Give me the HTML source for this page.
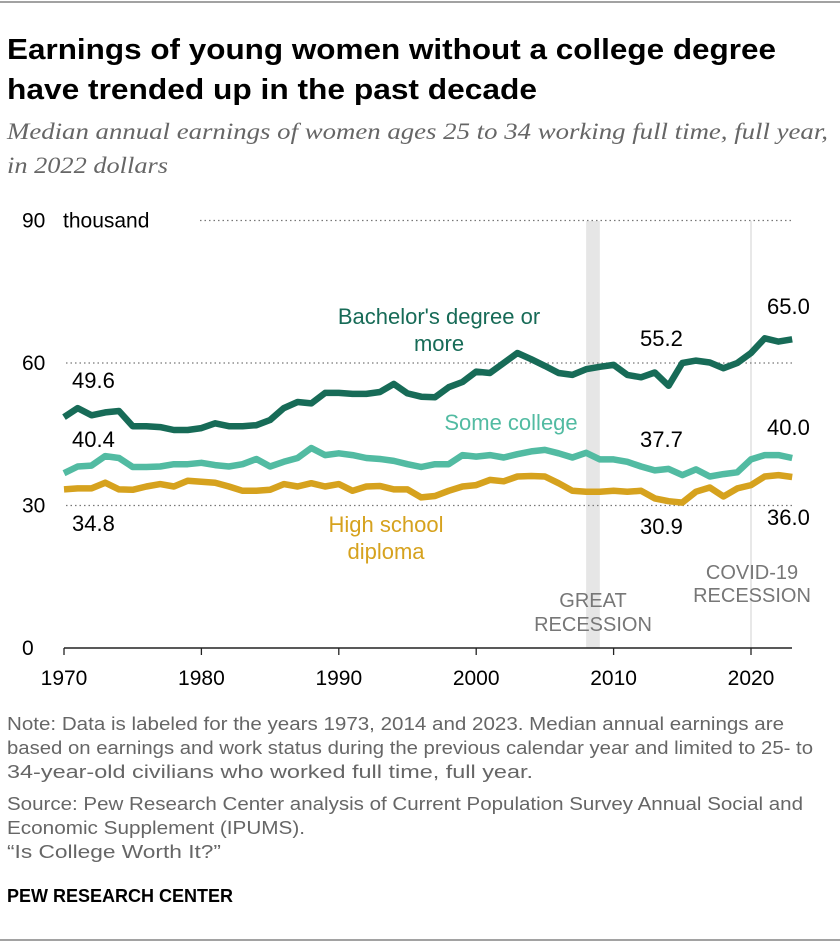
<!DOCTYPE html>
<html><head><meta charset="utf-8"><style>
body{margin:0;background:#fff;width:840px;height:944px;overflow:hidden;font-family:"Liberation Sans",sans-serif}
</style></head><body>
<svg width="840" height="944" xmlns="http://www.w3.org/2000/svg" font-family="Liberation Sans, sans-serif">
<line x1="0" y1="2" x2="840" y2="2" stroke="#444" stroke-width="1"/>
<text x="7" y="59" font-size="29" font-weight="bold" fill="#000" textLength="769" lengthAdjust="spacingAndGlyphs">Earnings of young women without a college degree</text>
<text x="7" y="99" font-size="29" font-weight="bold" fill="#000" textLength="530" lengthAdjust="spacingAndGlyphs">have trended up in the past decade</text>
<text x="7" y="139" font-size="23" font-style="italic" fill="#666" font-family="Liberation Serif, serif" textLength="821" lengthAdjust="spacingAndGlyphs">Median annual earnings of women ages 25 to 34 working full time, full year,</text>
<text x="7" y="173" font-size="23" font-style="italic" fill="#666" font-family="Liberation Serif, serif" textLength="161" lengthAdjust="spacingAndGlyphs">in 2022 dollars</text>
<g id="plot"></g>
<g font-size="18" fill="#666">
<text x="7" y="730" textLength="777" lengthAdjust="spacingAndGlyphs">Note: Data is labeled for the years 1973, 2014 and 2023. Median annual earnings are</text>
<text x="7" y="754" textLength="806" lengthAdjust="spacingAndGlyphs">based on earnings and work status during the previous calendar year and limited to 25- to</text>
<text x="7" y="778" textLength="526" lengthAdjust="spacingAndGlyphs">34-year-old civilians who worked full time, full year.</text>
<text x="7" y="810" textLength="796" lengthAdjust="spacingAndGlyphs">Source: Pew Research Center analysis of Current Population Survey Annual Social and</text>
<text x="7" y="834" textLength="298" lengthAdjust="spacingAndGlyphs">Economic Supplement (IPUMS).</text>
<text x="7" y="858" textLength="214" lengthAdjust="spacingAndGlyphs">“Is College Worth It?”</text>
</g>
<text x="7" y="902" font-size="18" font-weight="bold" fill="#000" textLength="226" lengthAdjust="spacingAndGlyphs">PEW RESEARCH CENTER</text>
<line x1="0" y1="940" x2="840" y2="940" stroke="#444" stroke-width="1"/>
</svg>
<script>
const years=[];for(let y=1970;y<=2023;y++)years.push(y);
const bachelors=[48.6,50.5,49.0,49.6,49.9,46.7,46.7,46.5,45.9,45.9,46.3,47.3,46.7,46.7,46.9,48.0,50.5,51.8,51.5,53.7,53.7,53.5,53.5,53.9,55.6,53.6,52.9,52.8,54.9,56.0,58.2,57.9,60.0,62.1,60.8,59.4,57.9,57.5,58.7,59.2,59.6,57.5,57.0,58.0,55.2,60.0,60.5,60.1,58.9,60.0,62.1,65.2,64.5,65.0];
const someCollege=[36.8,38.2,38.4,40.4,40.0,38.1,38.1,38.2,38.7,38.7,39.0,38.5,38.2,38.7,39.8,38.2,39.2,40.0,42.1,40.6,41.0,40.6,40.0,39.8,39.4,38.7,38.1,38.7,38.7,40.6,40.3,40.6,40.1,40.8,41.4,41.7,41.0,40.1,41.1,39.7,39.7,39.2,38.2,37.4,37.7,36.4,37.6,36.1,36.6,37.0,39.7,40.6,40.6,40.0];
const highSchool=[33.4,33.6,33.6,34.8,33.4,33.3,34.0,34.5,34.0,35.2,35.0,34.8,34.0,33.1,33.1,33.3,34.5,34.0,34.7,34.0,34.5,33.1,34.0,34.1,33.4,33.4,31.7,32.0,33.1,34.0,34.3,35.4,35.1,36.1,36.2,36.1,34.7,33.1,32.9,32.9,33.1,32.9,33.1,31.5,30.9,30.6,32.9,33.8,31.9,33.6,34.3,36.1,36.4,36.0];
const yTicks=[0,30,60,90];
const xTicks=[1970,1980,1990,2000,2010,2020];
const NS="http://www.w3.org/2000/svg";
const X=y=>64+(y-1970)*13.74;
const Y=v=>648-v*4.75;
const g=document.getElementById('plot');
function mk(t,a,txt){const e=document.createElementNS(NS,t);for(const k in a)e.setAttribute(k,a[k]);if(txt!==undefined)e.textContent=txt;g.appendChild(e);return e;}
let r=mk('rect',{x:X(2008.0),y:221,width:X(2009.0)-X(2008.0),height:427,fill:'#e6e6e6'});


let c=mk('line',{x1:X(2020),y1:221,x2:X(2020),y2:648,stroke:'#e0e0e0','stroke-width':1.5});


yTicks.forEach(v=>{
 if(v>0){const l=mk('line',{x1:v===90?200:66,y1:Y(v),x2:792,y2:Y(v),stroke:'#777','stroke-width':1.3,'stroke-dasharray':'1.5,3'});
 
 }
 const t=mk('text',{x:22,y:Y(v)+7,'font-size':21,fill:'#000'},String(v));
 
 
 if(v===90){const u=mk('text',{x:63,y:Y(v)+7,'font-size':21,fill:'#000'},'thousand');
 
 }
});
const base=mk('line',{x1:64,y1:648,x2:792,y2:648,stroke:'#222','stroke-width':1.5});


xTicks.forEach(v=>{
 const tk=mk('line',{x1:X(v),y1:648,x2:X(v),y2:655,stroke:'#222','stroke-width':1.3});
 
 
 const t=mk('text',{x:X(v),y:685,'font-size':21,fill:'#000','text-anchor':'middle'},String(v));
 
 
});
function line(data,color,name){
 const p=mk('path',{d:data.map((v,i)=>(i?'L':'M')+X(years[i]).toFixed(1)+','+Y(v).toFixed(1)).join(''),fill:'none',stroke:color,'stroke-width':6.5,'stroke-linejoin':'round'});
 
 
}
line(highSchool,'#d6a21e','high-school-line');
line(someCollege,'#52bba2','some-college-line');
line(bachelors,'#176b57','bachelors-line');
function lab(x,y,txt,col,name,anchor,fs){const t=mk('text',{x:x,y:y,'font-size':fs||22,fill:col,'text-anchor':anchor||'start'},txt);
 
 }
lab(439,324,"Bachelor's degree or",'#176b57','bachelors-label','middle');
lab(439,351,'more','#176b57','bachelors-label-2','middle');
lab(511,430,'Some college','#52bba2','some-college-label','middle');
lab(386,532,'High school','#d6a21e','high-school-label','middle');
lab(386,559,'diploma','#d6a21e','high-school-label-2','middle');
const idx=[3,44,53];
const bl=[[72,388],[640,346],[767,314]],sl=[[72,447],[640,447],[767,435]],hl=[[72,531],[640,534],[767,525]];
idx.forEach((k,j)=>{
 lab(bl[j][0],bl[j][1],bachelors[k].toFixed(1),'#000','bachelors-value-'+years[k]);
 lab(sl[j][0],sl[j][1],someCollege[k].toFixed(1),'#000','some-college-value-'+years[k]);
 lab(hl[j][0],hl[j][1],highSchool[k].toFixed(1),'#000','high-school-value-'+years[k]);
});
lab(593,607,'GREAT','#777','great-recession-label','middle',20);
lab(593,631,'RECESSION','#777','great-recession-label-2','middle',20);
lab(752,579,'COVID-19','#777','covid-label','middle',20);
lab(752,602,'RECESSION','#777','covid-label-2','middle',20);
</script>
</body></html>
